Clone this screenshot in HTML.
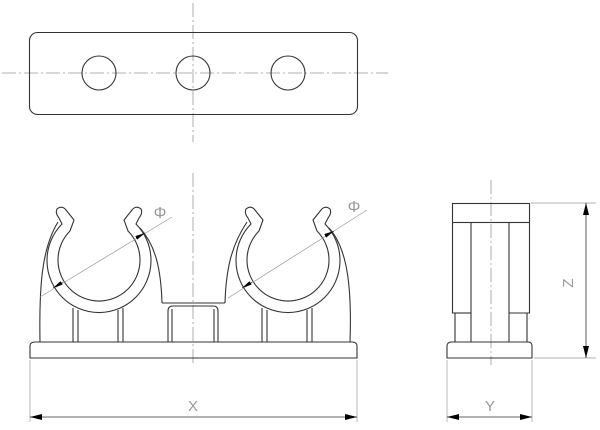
<!DOCTYPE html>
<html><head><meta charset="utf-8"><style>
html,body{margin:0;padding:0;background:#fff;width:600px;height:430px;overflow:hidden}
svg{display:block}
</style></head><body>
<svg width="600" height="430" viewBox="0 0 600 430" xmlns="http://www.w3.org/2000/svg">
<defs>
<marker id="ar" viewBox="0 0 12 6" refX="12" refY="3" markerWidth="12" markerHeight="6" orient="auto" markerUnits="userSpaceOnUse"><path d="M0,0 L12,3 L0,6 Z" fill="#000"/></marker>
<marker id="sa" viewBox="0 0 10 4" refX="10" refY="2" markerWidth="10" markerHeight="4" orient="auto" markerUnits="userSpaceOnUse"><path d="M0,0 L10,2 L0,4 Z" fill="#000"/></marker>
<g id="clip" fill="none" stroke="#333" stroke-width="1.1">
<path d="M70,231 L74,220 L66,210 Q62,205 57,209 Q55,213 59,218 L62,224 A52,52 0 1 0 136,224 L139,218 Q143,213 141,209 Q136,205 132,210 L124,220 L128,231 A41,41 0 1 1 70,231 Z"/>
<line x1="73" y1="308" x2="73" y2="342"/><line x1="78" y1="310" x2="78" y2="342"/>
<line x1="118" y1="310" x2="118" y2="342"/><line x1="123" y1="308" x2="123" y2="342"/>
</g>
</defs>
<g fill="none" stroke="#999" stroke-width="0.8" stroke-dasharray="14 3 2 3">
<line x1="2" y1="73" x2="388" y2="73"/>
<line x1="193" y1="3" x2="193" y2="142"/>
<line x1="193" y1="173" x2="193" y2="365"/>
<line x1="491" y1="180" x2="491" y2="365"/>
</g>
<g fill="none" stroke="#333" stroke-width="1.1">
<rect x="29.5" y="32.5" width="328" height="82" rx="8"/>
<circle cx="99" cy="73" r="17"/><circle cx="193" cy="73" r="17"/><circle cx="288" cy="73" r="17"/>
<path d="M40,342 C39,285 42,248 58,222"/>
<path d="M162,303 C161,270 156,246 140,228"/>
<path d="M162,303 L225,303"/>
<path d="M225,303 C226,270 231,246 247,222"/>
<path d="M350,342 C352,285 347,248 329,228"/>
<path d="M168,342 L168,311 Q168,306 173,306 L213,306 Q218,306 218,311 L218,342"/>
<line x1="172" y1="309" x2="172" y2="342"/><line x1="214" y1="309" x2="214" y2="342"/>
<path d="M30,346 Q30,342 35,342 L352,342 Q357,342 357,346 L357,358 L30,358 Z"/>
<rect x="452.5" y="203.5" width="77" height="19"/>
<line x1="471" y1="222" x2="471" y2="342"/><line x1="509" y1="222" x2="509" y2="342"/>
<path d="M452.5,222 L452.5,313 L455,313 L455,342"/><path d="M529.5,222 L529.5,313 L527,313 L527,342"/>
<line x1="455" y1="313" x2="471" y2="313"/><line x1="509" y1="313" x2="527" y2="313"/>
<path d="M447,346 Q447,342 452,342 L528,342 Q532,342 532,346 L532,358 L447,358 Z"/>
</g>
<use href="#clip"/>
<use href="#clip" transform="translate(189,0)"/>
<g stroke="#999" stroke-width="0.7" fill="none">
<line x1="40" y1="297" x2="172" y2="217"/>
<line x1="228" y1="298" x2="367" y2="210"/>
<line x1="30" y1="360" x2="30" y2="422"/><line x1="357" y1="360" x2="357" y2="422"/>
<line x1="447" y1="360" x2="447" y2="422"/><line x1="532" y1="360" x2="532" y2="422"/>
<line x1="531" y1="203" x2="596" y2="203"/><line x1="534" y1="358" x2="596" y2="358"/>
</g>
<g stroke="none" fill="none">
<line x1="63" y1="282" x2="53" y2="288" stroke="#000" stroke-width="0.5" marker-end="url(#sa)"/>
<line x1="136" y1="238" x2="145" y2="233" stroke="#000" stroke-width="0.5" marker-end="url(#sa)"/>
<line x1="252" y1="282" x2="242" y2="288" stroke="#000" stroke-width="0.5" marker-end="url(#sa)"/>
<line x1="325" y1="236" x2="334" y2="231" stroke="#000" stroke-width="0.5" marker-end="url(#sa)"/>
</g>
<g stroke="#333" stroke-width="0.8">
<line x1="193" y1="417" x2="30" y2="417" marker-end="url(#ar)"/>
<line x1="193" y1="417" x2="357" y2="417" marker-end="url(#ar)"/>
<line x1="490" y1="417" x2="447" y2="417" marker-end="url(#ar)"/>
<line x1="490" y1="417" x2="532" y2="417" marker-end="url(#ar)"/>
<line x1="586" y1="280" x2="586" y2="203" marker-end="url(#ar)"/>
<line x1="586" y1="280" x2="586" y2="358" marker-end="url(#ar)"/>
</g>
<g font-family="Liberation Sans, sans-serif" fill="#999" font-size="15">
<text x="193" y="411" text-anchor="middle">X</text>
<text x="490" y="411" text-anchor="middle">Y</text>
<text x="0" y="0" text-anchor="middle" transform="translate(573,283) rotate(-90)">Z</text>
<text x="160" y="218" text-anchor="middle" font-size="16">Φ</text>
<text x="354" y="212" text-anchor="middle" font-size="16">Φ</text>
</g>
</svg>
</body></html>
